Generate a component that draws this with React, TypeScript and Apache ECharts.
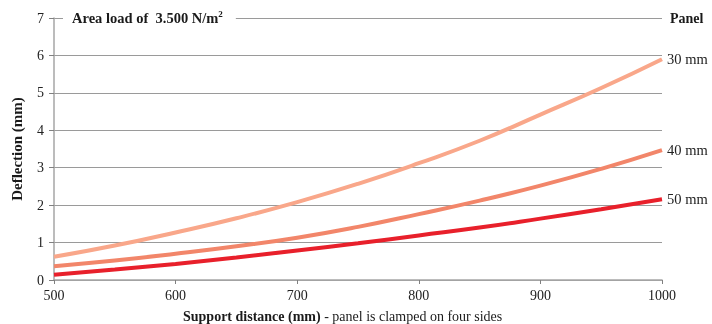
import React, { useEffect, useRef } from "react";
import * as echarts from "echarts";

const distances = [500, 550, 600, 650, 700, 750, 800, 850, 900, 950, 1000];
const panel30 = [0.62, 0.92, 1.27, 1.65, 2.08, 2.57, 3.12, 3.72, 4.42, 5.13, 5.9];
const panel40 = [0.37, 0.52, 0.7, 0.9, 1.13, 1.42, 1.76, 2.12, 2.52, 2.97, 3.47];
const panel50 = [0.14, 0.28, 0.43, 0.6, 0.79, 0.98, 1.19, 1.4, 1.64, 1.89, 2.16];
const seriesNames = ["30 mm", "40 mm", "50 mm"];
const seriesColors = ["#F9A78A", "#F2866A", "#E8202B"];

const FONT = "'Liberation Serif', 'DejaVu Serif', serif";

export default function App() {
  const ref = useRef<HTMLDivElement>(null);
  useEffect(() => {
    if (!ref.current) return;
    document.body.style.margin = "0";
    document.body.style.overflow = "hidden";
    document.documentElement.style.overflow = "hidden";
    const chart = echarts.init(ref.current, undefined, { renderer: "svg" });
    const datasets = [panel30, panel40, panel50];
    chart.setOption({
      animation: false,
      textStyle: { fontFamily: FONT },
      grid: { left: 54, right: 50, top: 18, bottom: 44, outerBoundsMode: "none", containLabel: false },
      title: {
        text: "{t|Area load of  3.500 N/m}{s|2}",
        left: 63,
        top: 9,
        padding: [0, 13, 0, 9],
        backgroundColor: "#ffffff",
        textStyle: {
          rich: {
            t: { fontFamily: FONT, fontSize: 14.5, fontWeight: "bold", color: "#1a1a1a", lineHeight: 18 },
            s: { fontFamily: FONT, fontSize: 9, fontWeight: "bold", color: "#1a1a1a", verticalAlign: "top", lineHeight: 10 },
          },
        },
      },
      graphic: [
        {
          type: "text",
          x: 670,
          y: 18,
          style: {
            text: "Panel",
            fontFamily: FONT,
            fontSize: 14,
            fontWeight: "bold",
            fill: "#1a1a1a",
            verticalAlign: "middle",
          },
        },
        {
          type: "text",
          x: 183,
          y: 316,
          style: {
            text: "{b|Support distance (mm)}{n| - panel is clamped on four sides}",
            verticalAlign: "middle",
            rich: {
              b: { fontFamily: FONT, fontSize: 14, fontWeight: "bold", fill: "#1a1a1a", color: "#1a1a1a" },
              n: { fontFamily: FONT, fontSize: 14, fill: "#1a1a1a", color: "#1a1a1a" },
            },
          },
        },
      ],
      xAxis: {
        type: "value",
        min: 500,
        max: 1000,
        interval: 100,
        axisLine: { lineStyle: { color: "#a6a6a6", width: 1.5 } },
        axisTick: { show: true, length: 4, lineStyle: { color: "#808080" } },
        axisLabel: {
          fontFamily: FONT,
          fontSize: 14,
          color: "#222",
          margin: 8,
          formatter: (v: number) => String(v),
        },
        splitLine: { show: false },
      },
      yAxis: {
        type: "value",
        min: 0,
        max: 7,
        interval: 1,
        name: "Deflection (mm)",
        nameLocation: "middle",
        nameGap: 30,
        nameTextStyle: { fontFamily: FONT, fontSize: 15, fontWeight: "bold", color: "#1a1a1a" },
        axisLine: { show: true, lineStyle: { color: "#a6a6a6", width: 1.5 } },
        axisTick: { show: true, length: 5, lineStyle: { color: "#808080" } },
        axisLabel: { fontFamily: FONT, fontSize: 14, color: "#222", margin: 10 },
        splitLine: { show: true, lineStyle: { color: "#9a9a9a", width: 1 } },
      },
      series: datasets.map((d, i) => ({
        type: "line",
        name: seriesNames[i],
        data: distances.map((x, j) => [x, d[j]]),
        smooth: true,
        showSymbol: false,
        symbol: "none",
        lineStyle: { color: seriesColors[i], width: 4 },
        itemStyle: { color: seriesColors[i] },
        endLabel: {
          show: true,
          formatter: seriesNames[i],
          fontFamily: FONT,
          fontSize: 14.5,
          color: "#222",
          distance: 5,
        },
        z: 3 - i,
      })),
    });
    return () => chart.dispose();
  }, []);
  return <div ref={ref} style={{ position: "fixed", left: 0, top: 0, width: 712, height: 324 }} />;
}
